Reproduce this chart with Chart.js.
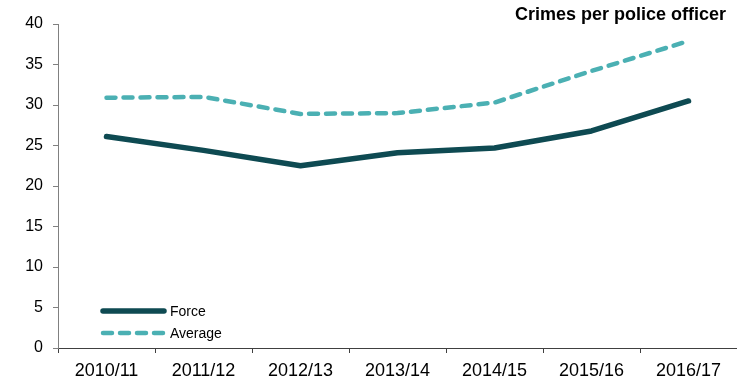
<!DOCTYPE html>
<html>
<head>
<meta charset="utf-8">
<script src="https://cdn.jsdelivr.net/npm/chart.js@4/dist/chart.umd.min.js"></script>
<style>
  html, body { margin: 0; padding: 0; background: #fff; }
  #wrap { width: 737px; height: 383px; position: relative; }
</style>
</head>
<body>
<div id="wrap"><canvas id="c" width="737" height="383"></canvas></div>
<script>
const categories = ["2010/11", "2011/12", "2012/13", "2013/14", "2014/15", "2015/16", "2016/17"];
const forceValues = [26.1, 24.4, 22.5, 24.1, 24.7, 26.8, 30.5];
const averageValues = [30.9, 31.0, 28.9, 29.0, 30.3, 34.2, 37.9];
const seriesNames = ["Force", "Average"];
const titleText = "Crimes per police officer";
const yTicks = [0, 5, 10, 15, 20, 25, 30, 35, 40];

const FONT = "'Liberation Sans', Arial, sans-serif";

const titlePlugin = {
  id: 'cornerTitle',
  afterDraw(chart) {
    const ctx = chart.ctx;
    ctx.save();
    ctx.font = "bold 18px " + FONT;
    ctx.fillStyle = "#000";
    ctx.textAlign = "right";
    ctx.textBaseline = "middle";
    ctx.fillText(titleText, 726, 15);
    ctx.restore();
  }
};

const legendPlugin = {
  id: 'innerLegend',
  afterDraw(chart) {
    const ctx = chart.ctx;
    const area = chart.chartArea;
    const x0 = area.left + 45, x1 = area.left + 106;
    const rows = [area.bottom - 37, area.bottom - 15];
    chart.data.datasets.forEach((ds, i) => {
      const y = rows[i];
      ctx.save();
      ctx.strokeStyle = ds.borderColor;
      ctx.lineWidth = ds.borderWidth;
      ctx.lineCap = 'round';
      ctx.setLineDash(ds.borderDash || []);
      ctx.beginPath();
      ctx.moveTo(x0, y);
      ctx.lineTo(x1, y);
      ctx.stroke();
      ctx.setLineDash([]);
      ctx.font = "14px " + FONT;
      ctx.fillStyle = "#000";
      ctx.textAlign = "left";
      ctx.textBaseline = "middle";
      ctx.fillText(ds.label, x1 + 6, y + 1);
      ctx.restore();
    });
  }
};

new Chart(document.getElementById('c'), {
  type: 'line',
  data: {
    labels: categories,
    datasets: [
      {
        label: seriesNames[0],
        data: forceValues,
        borderColor: '#0e4a52',
        backgroundColor: '#0e4a52',
        borderWidth: 5.5,
        pointRadius: 0,
        tension: 0,
        borderCapStyle: 'round',
        borderJoinStyle: 'round'
      },
      {
        label: seriesNames[1],
        data: averageValues,
        borderColor: '#4bb0b3',
        backgroundColor: '#4bb0b3',
        borderWidth: 4.5,
        borderDash: [9, 8],
        borderCapStyle: 'round',
        pointRadius: 0,
        tension: 0,
        borderJoinStyle: 'round'
      }
    ]
  },
  options: {
    responsive: false,
    animation: false,
    devicePixelRatio: 1,
    layout: { padding: { top: 24, right: 0, bottom: 0, left: 0 } },
    plugins: {
      legend: { display: false },
      title: { display: false },
      tooltip: { enabled: false }
    },
    scales: {
      x: {
        offset: true,
        grid: {
          offset: true,
          drawOnChartArea: false,
          drawTicks: true,
          tickLength: 5,
          color: '#404040'
        },
        border: { display: true, color: '#404040', width: 1 },
        ticks: {
          color: '#000',
          font: { family: FONT, size: 18 },
          padding: 7,
          maxRotation: 0,
          autoSkip: false
        },
        afterFit(scale) { scale.height = 35; }
      },
      y: {
        min: 0,
        max: 40,
        afterBuildTicks(scale) { scale.ticks = yTicks.map(v => ({ value: v })); },
        grid: {
          drawOnChartArea: false,
          drawTicks: true,
          tickLength: 5,
          color: '#808080'
        },
        border: { display: true, color: '#808080', width: 1 },
        ticks: {
          color: '#000',
          font: { family: FONT, size: 16 },
          padding: 10
        },
        afterFit(scale) { scale.width = 58; }
      }
    }
  },
  plugins: [titlePlugin, legendPlugin]
});
</script>
</body>
</html>
